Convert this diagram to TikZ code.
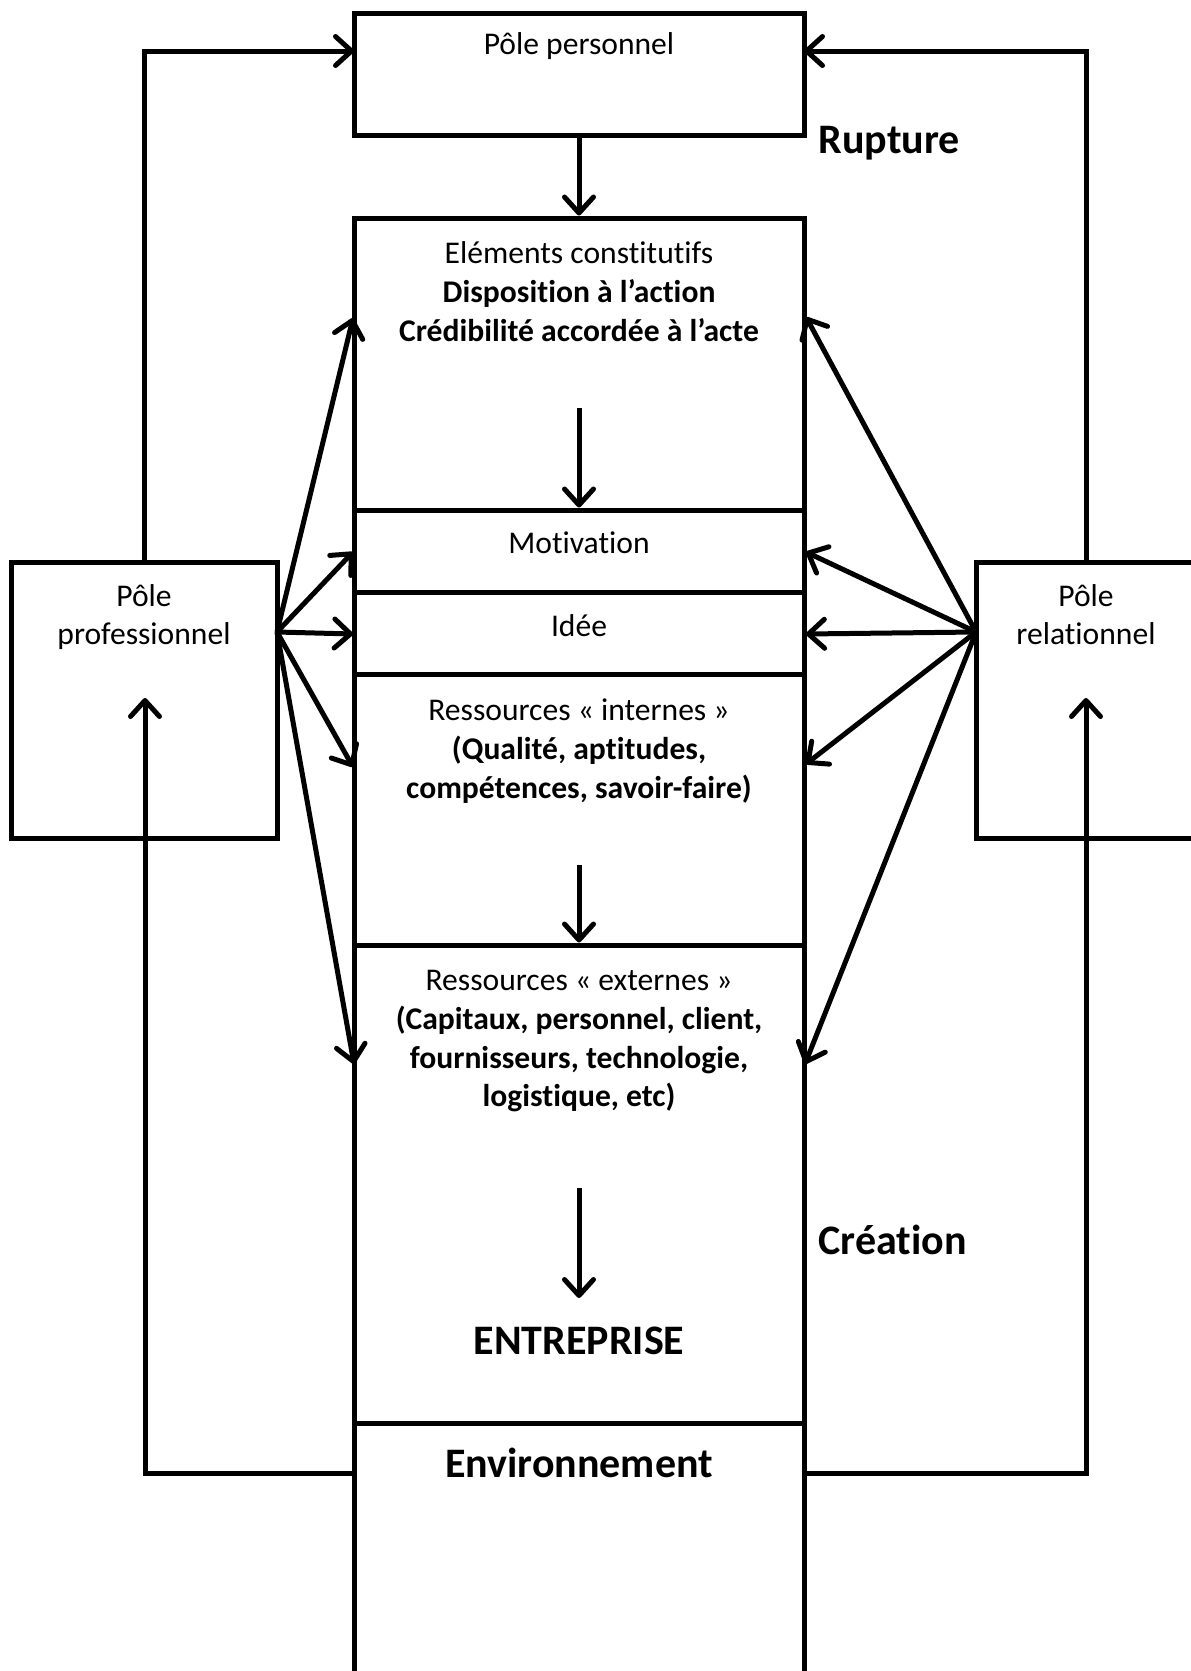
\documentclass[tikz,border=0pt]{standalone}
\usepackage{fontspec}
\setmainfont{Carlito}[RawFeature=-liga]
\usetikzlibrary{arrows.meta}
\begin{document}
\begin{tikzpicture}[x=1pt,y=-1pt,
  line width=5pt,
  cell/.style={draw, rectangle, inner sep=0pt, line width=5pt},
  txt/.style={anchor=base, inner sep=0pt, font=\fontsize{31.6}{39}\selectfont},
  btxt/.style={txt, font=\fontsize{31.6}{39}\selectfont\bfseries},
  big/.style={anchor=base, inner sep=0pt, font=\fontsize{42}{50}\selectfont\bfseries},
  arr/.style={-{Straight Barb[length=16pt,width=29pt,round]}}]
\clip (0,0) rectangle (1191,1671);
\fill[white] (0,0) rectangle (1191,1671);

% boxes of the central column
\node[cell, minimum width=450, minimum height=122] (perso)  at (579,74) {};
\node[cell, minimum width=450, minimum height=292] (elem)   at (579,364) {};
\node[cell, minimum width=450, minimum height=82]  (motiv)  at (579,551) {};
\node[cell, minimum width=450, minimum height=82]  (idee)   at (579,633) {};
\node[cell, minimum width=450, minimum height=271] (intern) at (579,809.5) {};
\node[cell, minimum width=450, minimum height=478] (extern) at (579,1184) {};
\node[cell, minimum width=450, minimum height=267] (env)    at (579,1556.5) {};

% side poles
\node[cell, minimum width=266, minimum height=276] (pro) at (144,700) {};
\node[cell, minimum width=220, minimum height=276] (rel) at (1086,700) {};

% texts
\node[txt] (tPerso) at (579,54) {Pôle personnel};
\node[big, anchor=base west] (tRupt) at (816,153) {Rupture};
\node[txt]  (tEl1) at (579,263) {Eléments constitutifs};
\node[btxt] (tEl2) at (579,302) {Disposition à l’action};
\node[btxt] (tEl3) at (579,341) {Crédibilité accordée à l’acte};
\node[txt] (tMot) at (579,553) {Motivation};
\node[txt] (tIde) at (579,636) {Idée};
\node[txt]  (tIn1) at (579,720) {Ressources « internes »};
\node[btxt] (tIn2) at (579,759) {(Qualité, aptitudes,};
\node[btxt] (tIn3) at (579,798) {compétences, savoir-faire)};
\node[txt]  (tEx1) at (579,990) {Ressources « externes »};
\node[btxt] (tEx2) at (579,1029) {(Capitaux, personnel, client,};
\node[btxt] (tEx3) at (579,1068) {fournisseurs, technologie,};
\node[btxt] (tEx4) at (579,1106) {logistique, etc)};
\node[big] (tEnt) at (579,1354) {ENTREPRISE};
\node[big, anchor=base west] (tCre) at (816,1254) {Création};
\node[big] (tEnv) at (579,1477) {Environnement};
\node[txt] (tPro1) at (144,606) {Pôle};
\node[txt] (tPro2) at (144,644) {professionnel};
\node[txt] (tRel1) at (1086,606) {Pôle};
\node[txt] (tRel2) at (1086,644) {relationnel};

% arrows down the column
\coordinate (elemA) at (579,408);
\coordinate (internA) at (579,865);
\coordinate (externA) at (579,1188);
\coordinate (entA) at (579,1298);
\draw[arr] (perso.south) -- (elem.north);
\draw[arr] (elemA) -- (motiv.north);
\draw[arr] (internA) -- (extern.north);
\draw[arr] (externA) -- (entA);

% feedback loops towards the personal pole
\coordinate (persoL) at (354,51);
\coordinate (persoR) at (804,51);
\draw[arr] (pro.north) |- (persoL);
\draw[arr] (rel.north) |- (persoR);

% environment feeding the side poles
\coordinate (envL) at (354,1473);
\coordinate (envR) at (804,1473);
\coordinate (proIn) at (145,698);
\coordinate (relIn) at (1086,698);
\draw[arr] (envL) -| (proIn);
\draw[arr] (envR) -| (relIn);

% professional pole fan
\coordinate (pf) at (277,632);
\coordinate (pfElem) at (353,318);
\coordinate (pfMot) at (353,552);
\coordinate (pfIde) at (353,634);
\coordinate (pfInt) at (353,767);
\coordinate (pfExt) at (354,1064);
\foreach \t in {pfElem,pfMot,pfIde,pfInt,pfExt} \draw[arr] (pf) -- (\t);

% relational pole fan
\coordinate (rf) at (976,632);
\coordinate (rfElem) at (806,317);
\coordinate (rfMot) at (806,552);
\coordinate (rfIde) at (806,634);
\coordinate (rfInt) at (806,764);
\coordinate (rfExt) at (805,1064);
\foreach \t in {rfElem,rfMot,rfIde,rfInt,rfExt} \draw[arr] (rf) -- (\t);
\end{tikzpicture}
\end{document}
